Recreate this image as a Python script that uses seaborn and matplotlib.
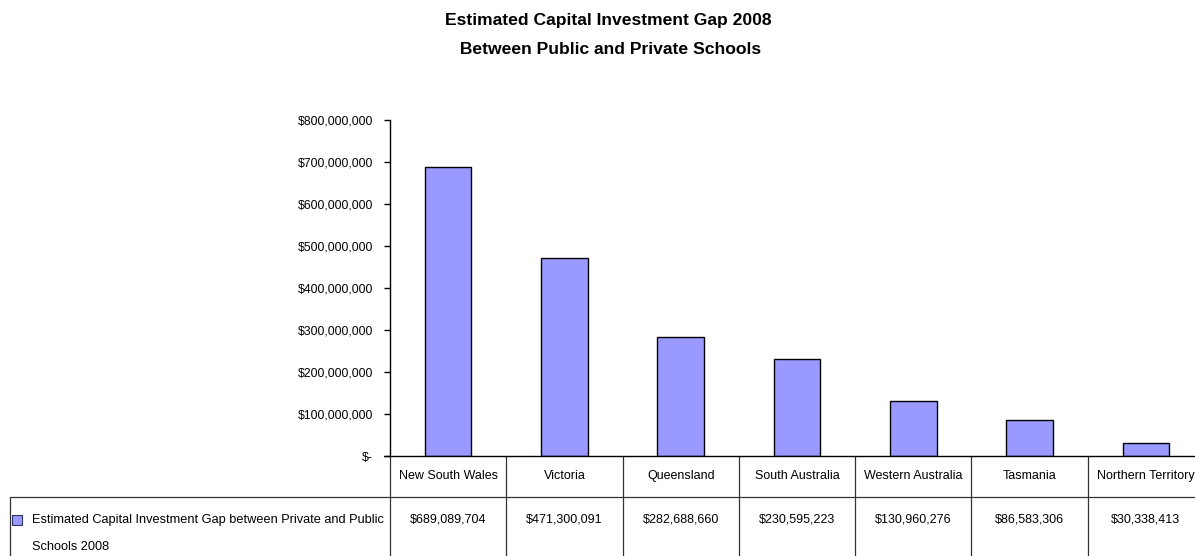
import matplotlib
matplotlib.use("Agg")
import matplotlib.pyplot as plt
import matplotlib.transforms as mtransforms
from matplotlib.ticker import FuncFormatter
import pandas as pd
import seaborn as sns

states = ["New South Wales", "Victoria", "Queensland", "South Australia",
          "Western Australia", "Tasmania", "Northern Territory"]
gap_2008 = [689089704, 471300091, 282688660, 230595223,
            130960276, 86583306, 30338413]
series_name = ["Estimated Capital Investment Gap between Private and Public",
               "Schools 2008"]
title_lines = ["Estimated Capital Investment Gap 2008", " Between Public and Private Schools"]
y_ticks = [0, 100e6, 200e6, 300e6, 400e6, 500e6, 600e6, 700e6, 800e6]

BAR = "#9999FF"
GRID = "#333333"

sns.set_theme(style="white")
plt.rcParams["font.family"] = ["Liberation Sans", "DejaVu Sans"]
plt.rcParams["text.color"] = "black"
plt.rcParams["ytick.labelcolor"] = "black"
plt.rcParams["xtick.labelcolor"] = "black"

W, H = 1195, 556
fig = plt.figure(figsize=(W / 100, H / 100), dpi=100)
ax = fig.add_axes([390 / W, 100 / H, 814 / W, 336 / H])

df = pd.DataFrame({"state": states, "gap": gap_2008})
sns.barplot(data=df, x="state", y="gap", ax=ax, color=BAR, width=0.4,
            edgecolor="black", linewidth=1.0, saturation=1)

ax.set_xlim(-0.5, len(states) - 0.5)
ax.set_ylim(0, 800e6)
ax.set_yticks(y_ticks)
ax.yaxis.set_major_formatter(FuncFormatter(
    lambda v, _: "$-" if v == 0 else f"${v:,.0f}"))
ax.tick_params(axis="y", direction="out", length=4.3, width=1, color="black",
               labelsize=8.8, pad=8, left=True)
ax.set_xticks([])
ax.set_xlabel("")
ax.set_ylabel("")
for side in ("top", "right"):
    ax.spines[side].set_visible(False)
for side in ("left", "bottom"):
    ax.spines[side].set_color("black")
    ax.spines[side].set_linewidth(1)

# data table under the axis: x in category units, y in axes fraction
tr = mtransforms.blended_transform_factory(ax.transData, ax.transAxes)
row1 = -41 / 336
bottom = -0.35
left_x = (10 - 390) / 116.3 - 0.5
for k in range(len(states) + 1):
    ax.plot([k - 0.5, k - 0.5], [0, bottom], transform=tr, color=GRID,
            lw=0.9, clip_on=False)
ax.plot([left_x, len(states) - 0.5], [row1, row1], transform=tr,
        color=GRID, lw=0.9, clip_on=False)
ax.plot([left_x, left_x], [row1, bottom], transform=tr, color=GRID,
        lw=0.9, clip_on=False)
ax.plot([-0.5 - 6 / 116.3, -0.5], [0, 0], transform=tr, color="black",
        lw=1, clip_on=False)

for i, (s, v) in enumerate(zip(states, gap_2008)):
    ax.text(i, -20 / 336, s, transform=tr, ha="center", va="center",
            fontsize=9, color="black")
    ax.text(i, -64 / 336, f"${v:,.0f}", transform=tr, ha="center",
            va="center", fontsize=9, color="black")

ax.scatter([(17 - 390) / 116.3 - 0.5], [-64 / 336], transform=tr, marker="s",
           s=55, color=BAR, edgecolor="#333366", linewidth=0.8, clip_on=False)
for j, line in enumerate(series_name):
    ax.text((32 - 390) / 116.3 - 0.5, (-64 - 27 * j) / 336, line,
            transform=tr, ha="left", va="center", fontsize=9.2,
            color="black")

fig.text(608 / W, 1 - 21 / H, title_lines[0], ha="center", va="center",
         fontsize=12.6, fontweight="bold")
fig.text(608 / W, 1 - 50 / H, title_lines[1], ha="center", va="center",
         fontsize=12.6, fontweight="bold")

fig.savefig("out.png", dpi=100, facecolor="white")
